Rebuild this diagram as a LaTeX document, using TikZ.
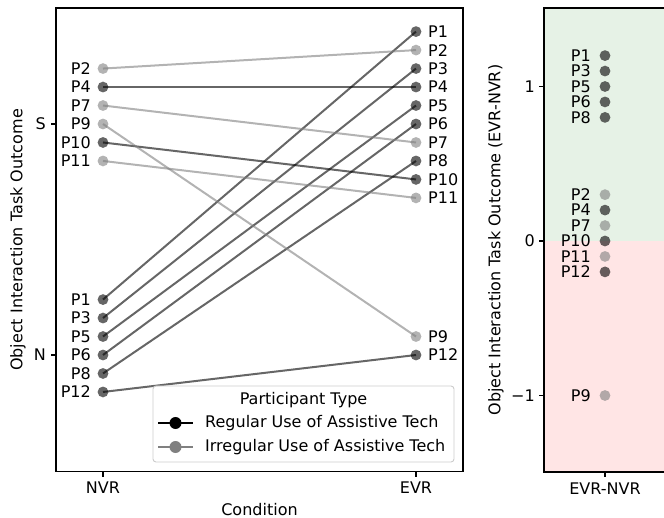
\documentclass[tikz,border=0pt]{standalone}
\usepackage{fontspec}
\setmainfont{DejaVu Sans}
\definecolor{greenbg}{RGB}{230,242,230}
\definecolor{redbg}{RGB}{255,229,229}
\definecolor{legedge}{RGB}{204,204,204}
\definecolor{midgray}{RGB}{128,128,128}
\tikzset{
  txt/.style={font=\fontsize{16}{19}\selectfont, inner sep=0pt, text=black},
  regline/.style={draw=black, draw opacity=0.6, line width=2pt},
  irrline/.style={draw=midgray, draw opacity=0.6, line width=2pt},
  regdot/.style={circle, fill=black, fill opacity=0.6, minimum size=10.8pt, inner sep=0pt},
  irrdot/.style={circle, fill=midgray, fill opacity=0.6, minimum size=10.8pt, inner sep=0pt},
  spine/.style={draw=black, line width=1.1pt},
  tick/.style={draw=black, line width=1.1pt},
}
\begin{document}
\begin{tikzpicture}[x=1pt, y=-1pt]
\useasboundingbox (0,0) rectangle (664,518);
% ---------- right panel background ----------
\fill[greenbg] (544,8) rectangle (664,241);
\fill[redbg] (544,241) rectangle (664,472);
% ---------- left panel coordinates ----------
\foreach \n/\v in {P2/3,P4/2,P7/1,P9/0,P10/-1,P11/-2}{
  \coordinate (n\n) at (103,{124-\v*18.48});
}
\foreach \n/\v in {P1/3,P3/2,P5/1,P6/0,P8/-1,P12/-2}{
  \coordinate (n\n) at (103,{355-\v*18.48});
}
\foreach \n/\v in {P1/5,P2/4,P3/3,P4/2,P5/1,P6/0,P7/-1,P8/-2,P10/-3,P11/-4}{
  \coordinate (e\n) at (416,{124-\v*18.48});
}
\foreach \n/\v in {P9/1,P12/0}{
  \coordinate (e\n) at (416,{355-\v*18.48});
}
% ---------- connectors ----------
\foreach \n in {P1,P3,P4,P5,P6,P8,P10,P12}{
  \draw[regline] (n\n) -- (e\n);
}
\foreach \n in {P2,P7,P9,P11}{
  \draw[irrline] (n\n) -- (e\n);
}
% ---------- markers and labels ----------
\foreach \n in {P1,P3,P4,P5,P6,P8,P10,P12}{
  \node[regdot] (mn\n) at (n\n) {};
  \node[regdot] (me\n) at (e\n) {};
}
\foreach \n in {P2,P7,P9,P11}{
  \node[irrdot] (mn\n) at (n\n) {};
  \node[irrdot] (me\n) at (e\n) {};
}
\foreach \n in {P1,P2,P3,P4,P5,P6,P7,P8,P9,P10,P11,P12}{
  \node[txt, anchor=east] (ln\n) at ([xshift=-12pt]n\n) {\n};
  \node[txt, anchor=west] (le\n) at ([xshift=12pt]e\n) {\n};
}
% ---------- left axes ----------
\draw[spine] (56,8) rectangle (463,471.5);
\draw[tick] (56,124) -- (51,124);
\draw[tick] (56,355) -- (51,355);
\node[txt, anchor=east] (tS) at (46,124) {S};
\node[txt, anchor=east] (tN) at (46,355) {N};
\draw[tick] (103,471.5) -- (103,476.5);
\draw[tick] (416,471.5) -- (416,476.5);
\node[txt, anchor=north] (tNVR) at (103,482) {NVR};
\node[txt, anchor=north] (tEVR) at (416,482) {EVR};
\node[txt, anchor=north] (xlab) at (259.5,503) {Condition};
\node[txt, rotate=90] (ylab) at (18,240) {Object Interaction Task Outcome};
% ---------- legend ----------
\draw[draw=legedge, fill=white, fill opacity=0.8, rounded corners=3pt, line width=0.9pt] (153,386) rectangle (454,462);
\node[txt] (legtitle) at (303.5,400) {Participant Type};
\coordinate (la1) at (158,423); \coordinate (lb1) at (193,423);
\coordinate (la2) at (158,447); \coordinate (lb2) at (193,447);
\draw[draw=black, line width=2pt] (la1) -- (lb1);
\draw[draw=midgray, line width=2pt] (la2) -- (lb2);
\node[circle, fill=black, minimum size=12pt, inner sep=0pt] (lm1) at (175.5,423) {};
\node[circle, fill=midgray, minimum size=12pt, inner sep=0pt] (lm2) at (175.5,447) {};
\node[txt, anchor=west] (lt1) at (205,423) {Regular Use of Assistive Tech};
\node[txt, anchor=west] (lt2) at (205,447) {Irregular Use of Assistive Tech};
% ---------- right panel ----------
\foreach \n/\v in {P1/1.2,P3/1.1,P5/1.0,P6/0.9,P8/0.8,P4/0.2,P10/0,P12/-0.2}{
  \node[regdot] (d\n) at (605,{241-\v*154.5}) {};
  \node[txt, anchor=east] (ld\n) at ([xshift=-14pt]d\n.center) {\n};
}
\foreach \n/\v in {P2/0.3,P7/0.1,P11/-0.1,P9/-1}{
  \node[irrdot] (d\n) at (605,{241-\v*154.5}) {};
  \node[txt, anchor=east] (ld\n) at ([xshift=-14pt]d\n.center) {\n};
}
\draw[spine] (664,8) -- (544,8) -- (544,472) -- (664,472);
\foreach \v/\t in {1/1,0/0,-1/−1}{
  \draw[tick] (544,{241-\v*154.5}) -- (539,{241-\v*154.5});
  \node[txt, anchor=east] at (535,{241-\v*154.5}) {\t};
}
\draw[tick] (605,472) -- (605,477);
\node[txt, anchor=north] (tdiff) at (605,483) {EVR-NVR};
\node[txt, rotate=90] (ylab2) at (496,240) {Object Interaction Task Outcome (EVR-NVR)};
\end{tikzpicture}
\end{document}
